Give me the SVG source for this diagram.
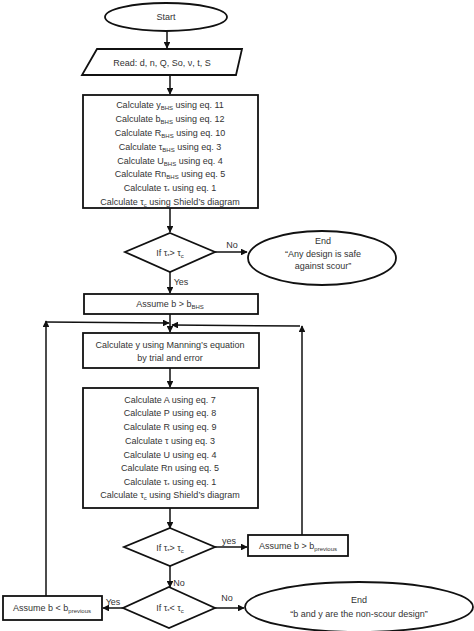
<svg xmlns="http://www.w3.org/2000/svg" width="474" height="631" viewBox="0 0 474 631">
<style>
.s{fill:#fff;stroke:#111;stroke-width:1.8}
.c{fill:none;stroke:#111;stroke-width:1.5}
text{font-family:"Liberation Sans",Arial,sans-serif;font-size:9px;fill:#333;text-anchor:middle}
.sub{font-size:6px}
</style>
<defs>
<marker id="a" viewBox="0 0 10 10" refX="9" refY="5" markerWidth="4.5" markerHeight="4.5" orient="auto"><path d="M0,0L10,5L0,10z" fill="#111"/></marker>
</defs>
<g id="connectors">
<line class="c" x1="167" y1="31" x2="167" y2="48" marker-end="url(#a)"/>
<line class="c" x1="170" y1="75" x2="170" y2="94" marker-end="url(#a)"/>
<line class="c" x1="170" y1="208" x2="170" y2="232" marker-end="url(#a)"/>
<line class="c" x1="215" y1="252" x2="247" y2="252" marker-end="url(#a)"/>
<line class="c" x1="170" y1="272" x2="170" y2="293" marker-end="url(#a)"/>
<line class="c" x1="170" y1="314" x2="170" y2="332" marker-end="url(#a)"/>
<line class="c" x1="170" y1="368" x2="170" y2="387" marker-end="url(#a)"/>
<line class="c" x1="170" y1="508" x2="170" y2="528" marker-end="url(#a)"/>
<line class="c" x1="215" y1="547" x2="247" y2="547" marker-end="url(#a)"/>
<line class="c" x1="170" y1="566" x2="170" y2="587" marker-end="url(#a)"/>
<line class="c" x1="124" y1="608" x2="103" y2="608" marker-end="url(#a)"/>
<line class="c" x1="215" y1="608" x2="244" y2="608" marker-end="url(#a)"/>
<line class="c" x1="46" y1="596" x2="46" y2="321" marker-end="url(#a)"/>
<line class="c" x1="46" y1="322" x2="169" y2="323" marker-end="url(#a)"/>
<line class="c" x1="302" y1="535" x2="302" y2="326" marker-end="url(#a)"/>
<line class="c" x1="300" y1="326" x2="172" y2="325" marker-end="url(#a)"/>
<text x="232" y="248">No</text>
<text x="181" y="285">Yes</text>
<text x="229" y="544">yes</text>
<text x="179" y="586">No</text>
<text x="113" y="605">Yes</text>
<text x="227" y="601">No</text>
</g>
<g id="start"><ellipse class="s" cx="166" cy="17" rx="61" ry="14"/><text x="166" y="20">Start</text></g>
<g id="read"><polygon class="s" points="97,49 242,49 236,75 82,75"/><text x="162" y="66">Read: d, n, Q, So, ν, t, S</text></g>
<g id="calc1"><rect class="s" x="83" y="95" width="175" height="113"/>
<text x="170" y="108">Calculate y<tspan class="sub" dy="2">BHS</tspan><tspan dy="-2"> using eq. 11</tspan></text>
<text x="170" y="122">Calculate b<tspan class="sub" dy="2">BHS</tspan><tspan dy="-2"> using eq. 12</tspan></text>
<text x="170" y="136">Calculate R<tspan class="sub" dy="2">BHS</tspan><tspan dy="-2"> using eq. 10</tspan></text>
<text x="170" y="150">Calculate τ<tspan class="sub" dy="2">BHS</tspan><tspan dy="-2"> using eq. 3</tspan></text>
<text x="170" y="164">Calculate U<tspan class="sub" dy="2">BHS</tspan><tspan dy="-2"> using eq. 4</tspan></text>
<text x="170" y="177">Calculate Rn<tspan class="sub" dy="2">BHS</tspan><tspan dy="-2"> using eq. 5</tspan></text>
<text x="170" y="191">Calculate τ<tspan class="sub" dy="2">*</tspan><tspan dy="-2"> using eq. 1</tspan></text>
<text x="170" y="205">Calculate τ<tspan class="sub" dy="2">c</tspan><tspan dy="-2"> using Shield’s diagram</tspan></text>
</g>
<g id="d1"><polygon class="s" points="170,233 215,252 170,272 125,252"/><text x="170" y="256">If τ<tspan class="sub" dy="2">*</tspan><tspan dy="-2">&gt; τ</tspan><tspan class="sub" dy="2">c</tspan></text></g>
<g id="end1"><ellipse class="s" cx="322" cy="258" rx="74" ry="27"/>
<text x="323" y="244">End</text><text x="323" y="257">“Any design is safe</text><text x="323" y="269">against scour”</text></g>
<g id="assume1"><rect class="s" x="84" y="294" width="174" height="20"/><text x="170" y="307">Assume b &gt; b<tspan class="sub" dy="2">BHS</tspan></text></g>
<g id="manning"><rect class="s" x="83" y="333" width="176" height="35"/>
<text x="170" y="348">Calculate y using Manning’s equation</text><text x="170" y="361">by trial and error</text></g>
<g id="calc2"><rect class="s" x="83" y="388" width="175" height="120"/>
<text x="170" y="403">Calculate A using eq. 7</text>
<text x="170" y="416">Calculate P using eq. 8</text>
<text x="170" y="430">Calculate R using eq. 9</text>
<text x="170" y="444">Calculate τ using eq. 3</text>
<text x="170" y="458">Calculate U using eq. 4</text>
<text x="170" y="471">Calculate Rn using eq. 5</text>
<text x="170" y="485">Calculate τ<tspan class="sub" dy="2">*</tspan><tspan dy="-2"> using eq. 1</tspan></text>
<text x="170" y="498">Calculate τ<tspan class="sub" dy="2">c</tspan><tspan dy="-2"> using Shield’s diagram</tspan></text>
</g>
<g id="d2"><polygon class="s" points="170,528 215,547 170,566 124,547"/><text x="170" y="551">If τ<tspan class="sub" dy="2">*</tspan><tspan dy="-2">&gt; τ</tspan><tspan class="sub" dy="2">c</tspan></text></g>
<g id="assume2"><rect class="s" x="248" y="535" width="100" height="21"/><text x="298" y="549">Assume b &gt; b<tspan class="sub" dy="2">previous</tspan></text></g>
<g id="d3"><polygon class="s" points="169,587 215,608 169,628 123,608"/><text x="170" y="611">If τ<tspan class="sub" dy="2">*</tspan><tspan dy="-2">&lt; τ</tspan><tspan class="sub" dy="2">c</tspan></text></g>
<g id="assume3"><rect class="s" x="3" y="596" width="99" height="24"/><text x="52" y="611">Assume b &lt; b<tspan class="sub" dy="2">previous</tspan></text></g>
<g id="end2"><ellipse class="s" cx="359" cy="607" rx="114" ry="25"/>
<text x="359" y="603">End</text><text x="359" y="617">“b and y are the non-scour design”</text></g>
</svg>
